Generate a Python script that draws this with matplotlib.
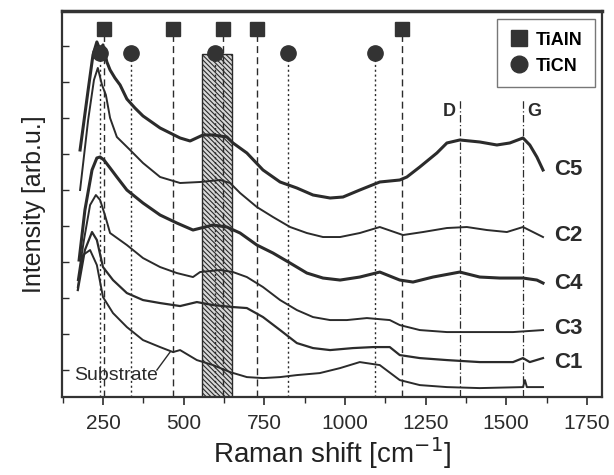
import matplotlib.pyplot as plt
from matplotlib.lines import Line2D
from matplotlib.ticker import MultipleLocator

plt.rcParams['font.family'] = ['Liberation Sans', 'DejaVu Sans']
plt.rcParams['hatch.linewidth'] = 0.8

# spectra: Raman shift [cm-1] and intensity [arb. u.]
x_c5 = [179, 204, 219, 231, 241, 250, 262, 272, 287, 303, 324, 349, 374, 427, 489, 520, 560, 591, 634, 653,
        696, 746, 799, 851, 901, 954, 994, 1046, 1108, 1170, 1192, 1232, 1285, 1316, 1356, 1418, 1471, 1511,
        1552, 1573, 1595, 1614]
y_c5 = [247, 307, 342, 355, 347, 352, 335, 327, 319, 312, 298, 289, 281, 269, 259, 256, 262, 262, 260, 254,
        244, 227, 215, 209, 202, 199, 200, 207, 215, 217, 220, 230, 244, 254, 257, 255, 252, 254,
        259, 252, 240, 227]

x_c2 = [179, 204, 222, 234, 247, 259, 272, 293, 334, 374, 427, 489, 551, 613, 644, 675, 727, 777, 830, 882,
        932, 985, 1046, 1108, 1180, 1242, 1316, 1378, 1440, 1502, 1552, 1583, 1614]
y_c2 = [207, 277, 317, 329, 312, 302, 279, 260, 247, 234, 220, 214, 215, 217, 214, 204, 190, 180, 170, 164,
        160, 160, 164, 170, 162, 165, 169, 170, 167, 165, 170, 165, 160]

x_c4 = [176, 194, 216, 231, 241, 253, 272, 293, 324, 374, 427, 479, 529, 591, 634, 675, 727, 777, 830, 882,
        932, 985, 1046, 1108, 1170, 1211, 1273, 1356, 1418, 1480, 1552, 1595, 1614]
y_c4 = [137, 187, 227, 239, 240, 237, 229, 220, 207, 194, 182, 174, 167, 172, 170, 164, 152, 144, 134, 124,
        119, 117, 120, 125, 117, 115, 120, 125, 120, 119, 119, 117, 114]

x_c3 = [172, 191, 210, 228, 241, 256, 272, 324, 374, 427, 479, 529, 551, 613, 653, 696, 746, 799, 851, 901,
        954, 1006, 1068, 1139, 1170, 1232, 1316, 1418, 1521, 1614]
y_c3 = [117, 157, 192, 202, 197, 182, 164, 152, 139, 130, 124, 120, 125, 127, 125, 120, 110, 97, 87, 80,
        77, 77, 79, 77, 72, 67, 65, 65, 65, 67]

x_c1 = [172, 194, 216, 231, 250, 281, 324, 374, 427, 489, 541, 591, 653, 696, 746, 799, 851, 901, 954, 1025,
        1087, 1139, 1170, 1232, 1316, 1418, 1521, 1552, 1573, 1614]
y_c1 = [107, 147, 165, 157, 130, 117, 104, 97, 94, 91, 95, 92, 90, 89, 80, 67, 54, 49, 47, 49,
        50, 50, 42, 39, 37, 35, 35, 39, 35, 39]

x_sub = [172, 188, 210, 231, 250, 281, 324, 374, 427, 467, 489, 541, 591, 644, 696, 746, 799, 851, 922, 985,
         1046, 1108, 1170, 1232, 1316, 1418, 1552, 1558, 1564, 1614]
y_sub = [110, 142, 147, 132, 100, 84, 70, 57, 50, 45, 47, 37, 32, 25, 20, 19, 20, 22, 24, 29,
         35, 32, 17, 12, 10, 9, 10, 17, 10, 10]

# reference band positions
tialn_pos = [253, 467, 622, 727, 1177]
ticn_pos = [240, 337, 597, 823, 1093]
d_band = 1356
g_band = 1552
hatch_lo, hatch_hi = 556, 651

curve_names = ['C5', 'C2', 'C4', 'C3', 'C1']
label_y = [227, 162, 114, 69, 35]

col = '#2b2b2b'

fig = plt.figure(figsize=(6.14, 4.75), dpi=100)
ax = fig.add_axes([0.101, 0.164, 0.879, 0.813])

ax.axvspan(hatch_lo, hatch_hi, ymin=0, ymax=343/386, facecolor='#d8d8d8', edgecolor='#2a2a2a',
           hatch='\\' * 7, linewidth=1.0, zorder=1)

for p in tialn_pos:
    ax.plot([p, p], [0, 368], color=col, linestyle=(0, (5, 3)), linewidth=1.0, zorder=2)
    ax.plot(p, 368, marker='s', markersize=10, color='#333333', zorder=4)
for p in ticn_pos:
    ax.plot([p, p], [0, 344], color=col, linestyle=(0, (1.5, 2)), linewidth=1.0, zorder=2)
    ax.plot(p, 344, marker='o', markersize=11, color='#333333', zorder=4)

for p in [d_band, g_band]:
    ax.plot([p, p], [0, 297], color=col, linestyle=(0, (6, 2, 1, 2)), linewidth=0.9, zorder=2)
ax.text(d_band - 12, 285, 'D', fontsize=13, fontweight='bold', color=col, ha='right', va='center')
ax.text(g_band + 12, 285, 'G', fontsize=13, fontweight='bold', color=col, ha='left', va='center')

ax.plot(x_c5, y_c5, color=col, linewidth=2.2, zorder=3)
ax.plot(x_c2, y_c2, color=col, linewidth=1.4, zorder=3)
ax.plot(x_c4, y_c4, color=col, linewidth=2.2, zorder=3)
ax.plot(x_c3, y_c3, color=col, linewidth=1.4, zorder=3)
ax.plot(x_c1, y_c1, color=col, linewidth=1.6, zorder=3)
ax.plot(x_sub, y_sub, color=col, linewidth=1.4, zorder=3)

for name, yy in zip(curve_names, label_y):
    ax.text(1650, yy, name, fontsize=16, fontweight='bold', color=col, va='center', ha='left')

ax.plot([417, 458], [27, 45], color=col, linewidth=1.0)
ax.text(290, 22, 'Substrate', fontsize=14, color=col, ha='center', va='center')

handles = [Line2D([], [], marker='s', color='#333333', linestyle='None', markersize=11),
           Line2D([], [], marker='o', color='#333333', linestyle='None', markersize=12)]
leg = ax.legend(handles, ['TiAlN', 'TiCN'], loc='upper right', bbox_to_anchor=(0.987, 0.979),
                borderaxespad=0, fancybox=False, edgecolor='#555555', handletextpad=0.4,
                prop={'size': 13, 'weight': 'bold'}, labelspacing=0.5, handlelength=1.0,
                borderpad=0.7)
leg.get_frame().set_linewidth(1.0)

ax.set_xlim(123, 1796)
ax.set_ylim(0, 386)
ax.set_xticks([250, 500, 750, 1000, 1250, 1500, 1750])
ax.xaxis.set_minor_locator(MultipleLocator(125))
ax.set_yticks([27, 63, 99, 135, 171, 207, 243, 279, 315, 351])
ax.set_yticklabels([])
ax.tick_params(axis='x', direction='out', length=6, width=1.2, labelsize=15, colors=col, pad=6)
ax.tick_params(axis='x', which='minor', direction='out', length=4, width=1.0, colors=col)
ax.tick_params(axis='y', direction='in', length=5, width=1.0, colors=col)
for s in ax.spines.values():
    s.set_linewidth(1.6)
    s.set_color('#333333')
ax.spines['top'].set_linewidth(2.5)

ax.set_xlabel('Raman shift [cm$^{-1}$]', fontsize=20, color='#222222', labelpad=2)
ax.set_ylabel('Intensity [arb.u.]', fontsize=18, color='#222222', labelpad=8)

fig.savefig('out.png', dpi=100)
